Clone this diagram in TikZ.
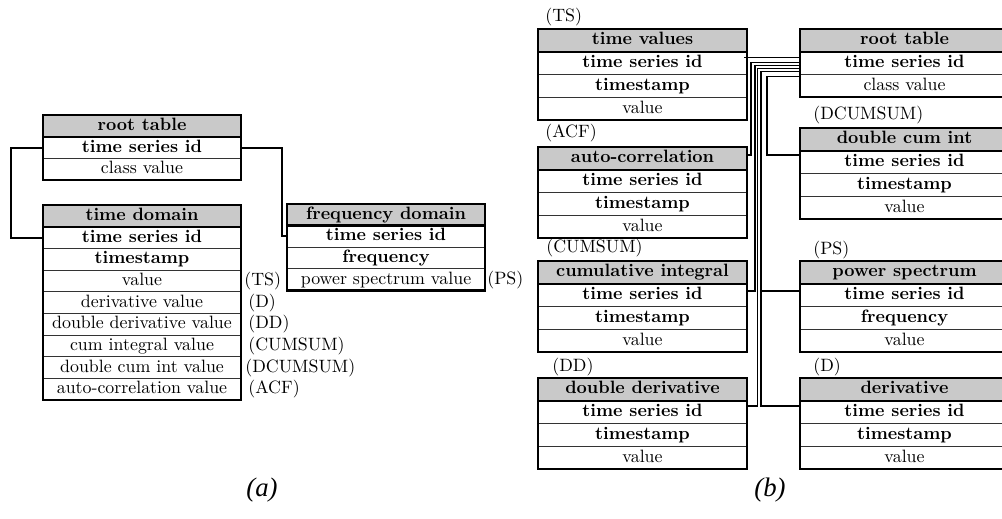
\documentclass[tikz,border=0pt]{standalone}
\usepackage{fontspec}
\newfontfamily\capfont{Liberation Serif}
\usetikzlibrary{calc}
\newcommand\pxu{0.56pt}
\tikzset{
 hdr/.style={fill=black!21, font=\bfseries, inner sep=0pt, outer sep=0pt, text height=7pt, text depth=2pt},
 rowc/.style={draw=black!80, line width=0.5pt, inner sep=0pt, outer sep=0pt, text height=7pt, text depth=2pt},
 frame/.style={draw=black, line width=1.25pt},
 conn/.style={draw=black, line width=1.1pt},
 connb/.style={draw=black, line width=0.9pt},
 lbl/.style={inner sep=0pt, anchor=west, text height=7pt, text depth=2pt},
 captxt/.style={font=\capfont\itshape\fontsize{15}{17}\selectfont}
}
\newcommand\dbtable[7]{%
  \node[hdr, minimum width=#4*\pxu, minimum height=#5*\pxu, anchor=north west] (#1-0) at (#2,#3) {#6};
  \foreach \t [count=\i, remember=\i as \lasti (initially 0)] in {#7} {%
    \node[rowc, minimum width=#4*\pxu, minimum height=#5*\pxu, anchor=north] (#1-\i) at (#1-\lasti.south) {\t};
    \xdef\lastrow{\i}%
  }
  \draw[frame] (#1-0.south west) -- (#1-0.south east);
  \draw[frame] (#1-0.north west) rectangle (#1-\lastrow.south east);
}
\begin{document}
\begin{tikzpicture}[x=0.56pt, y=-0.56pt]
\useasboundingbox (0,0) rectangle (1002,518);
% ---------- (a)
\dbtable{ra}{43}{115}{198}{21.7}{root table}{\textbf{time series id}, class value}
\dbtable{td}{43}{205}{198}{21.7}{time domain}{\textbf{time series id}, \textbf{timestamp}, value, derivative value, double derivative value, cum integral value, double cum int value, auto-correlation value}
\dbtable{fd}{287}{204}{198}{21.6}{frequency domain}{\textbf{time series id}, \textbf{frequency}, power spectrum value}
\node[lbl] (lts) at ($(td-3.east)+(3,0)$) {(TS)};
\node[lbl] (ld) at ($(td-4.east)+(7,0)$) {(D)};
\node[lbl] (ldd) at ($(td-5.east)+(7,0)$) {(DD)};
\node[lbl] (lcs) at ($(td-6.east)+(7,0)$) {(CUMSUM)};
\node[lbl] (ldcs) at ($(td-7.east)+(4,0)$) {(DCUMSUM)};
\node[lbl] (lacf) at ($(td-8.east)+(7,0)$) {(ACF)};
\node[lbl] (lps) at ($(fd-3.east)+(2,0)$) {(PS)};
\draw[conn] (ra-1.west) -- ++(-32,0) |- (td-1.west);
\draw[conn] (ra-1.east) -| ($(fd-1.west)+(-5,0)$) -- (fd-1.west);
\node[captxt] (capa) at (262,490) {(a)};
% ---------- (b)
\dbtable{tv}{538}{29}{209}{22.75}{time values}{\textbf{time series id}, \textbf{timestamp}, value}
\dbtable{ac}{538}{147}{209}{22.75}{auto-correlation}{\textbf{time series id}, \textbf{timestamp}, value}
\dbtable{ci}{538}{261}{209}{22.75}{cumulative integral}{\textbf{time series id}, \textbf{timestamp}, value}
\dbtable{dd}{538}{378}{209}{22.75}{double derivative}{\textbf{time series id}, \textbf{timestamp}, value}
\dbtable{rb}{800}{29}{209}{22.75}{root table}{\textbf{time series id}, class value}
\dbtable{dc}{800}{128}{209}{22.75}{double cum int}{\textbf{time series id}, \textbf{timestamp}, value}
\dbtable{ps}{800}{261}{209}{22.75}{power spectrum}{\textbf{time series id}, \textbf{frequency}, value}
\dbtable{de}{800}{378}{209}{22.75}{derivative}{\textbf{time series id}, \textbf{timestamp}, value}
\node[lbl] (bts) at (545,17) {(TS)};
\node[lbl] (bacf) at (545,133) {(ACF)};
\node[lbl] (bcs) at (546,248) {(CUMSUM)};
\node[lbl] (bdd) at (552,367) {(DD)};
\node[lbl] (bdcs) at (813,115) {(DCUMSUM)};
\node[lbl] (bps) at (813,250) {(PS)};
\node[lbl] (bd) at (813,367) {(D)};
% connectors
\draw[connb] ($(rb-1.west)+(0,-5.5)$) -- ($(tv-1.east)+(-3,-5.5)$);
\draw[connb] ($(rb-1.west)+(0,-0.5)$) -| ($(ac-0.east)+(4,-3.4)$) -- ($(ac-0.east)+(0,-3.4)$);
\draw[connb] ($(rb-1.west)+(0,2.5)$) -| ($(ci-1.east)+(8,-4)$) -- ($(ci-1.east)+(0,-4)$);
\draw[connb] ($(rb-1.west)+(0,5.5)$) -| ($(dd-1.east)+(10.5,-6)$) -- ($(dd-1.east)+(0,-6)$);
\draw[connb] ($(rb-1.west)+(0,8.5)$) -| ($(ps-1.west)+(-39,-4)$) -- ($(ps-1.west)+(0,-4)$);
\draw[connb] ($(rb-1.west)+(0,8.5)$) -| ($(de-1.west)+(-39,-6)$) -- ($(de-1.west)+(0,-6)$);
\draw[connb] ($(rb-1.west)+(0,13.5)$) -| ($(dc-1.west)+(-33,-7.4)$) -- ($(dc-1.west)+(0,-7.4)$);
\node[captxt] (capb) at (770,490) {(b)};
\end{tikzpicture}
\end{document}
